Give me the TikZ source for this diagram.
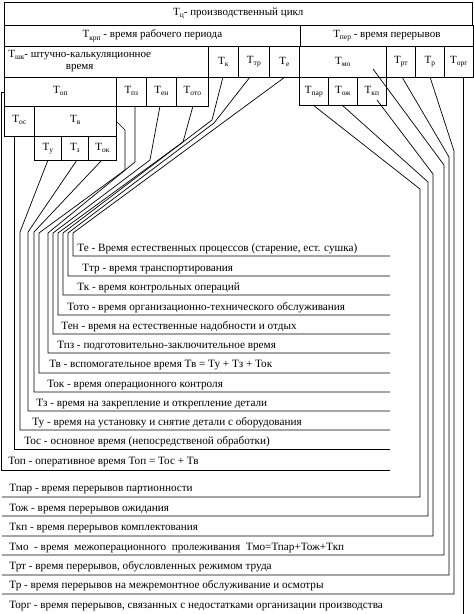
\documentclass[tikz,border=0pt]{standalone}
\usepackage{fontspec}
\setmainfont{Liberation Serif}
\newcommand\Ts[1]{Т\raisebox{-0.4ex}{\fontsize{7.5}{7.5}\selectfont #1}}
\newcommand\Up[1]{\raisebox{4pt}{#1}}
\begin{document}
\begin{tikzpicture}[x=1pt,y=-1pt,line width=0.7pt,
  box/.style={draw,inner sep=0pt,anchor=north west,align=center,font=\fontsize{11}{11.5}\selectfont},
  lbl/.style={anchor=base west,inner sep=0pt,font=\fontsize{11.2}{12}\selectfont},
  conn/.style={draw,line width=0.7pt}]
\useasboundingbox (0,0) rectangle (474,614);
% connectors (drawn first)
% left group
\coordinate (e1) at (285,77); \coordinate (e2) at (73,233); \coordinate (e3) at (73,256); \coordinate (e4) at (390,256);
\draw[conn] (e1) -- (e2) -- (e3) -- (e4);
\coordinate (tr1) at (250,77); \coordinate (tr2) at (214,123); \coordinate (tr3) at (68,233); \coordinate (tr4) at (68,276); \coordinate (tr5) at (390,276);
\draw[conn] (tr1) -- (tr2) -- (tr3) -- (tr4) -- (tr5);
\coordinate (k1) at (223,77); \coordinate (k2) at (212,120); \coordinate (k3) at (63,233); \coordinate (k4) at (63,295); \coordinate (k5) at (390,295);
\draw[conn] (k1) -- (k2) -- (k3) -- (k4) -- (k5);
\coordinate (oto1) at (193,106); \coordinate (oto2) at (183,142); \coordinate (oto3) at (58,233); \coordinate (oto4) at (58,315); \coordinate (oto5) at (390,315);
\draw[conn] (oto1) -- (oto2) -- (oto3) -- (oto4) -- (oto5);
\coordinate (en1) at (160,106); \coordinate (en2) at (150,160); \coordinate (en3) at (53,233); \coordinate (en4) at (53,334); \coordinate (en5) at (390,334);
\draw[conn] (en1) -- (en2) -- (en3) -- (en4) -- (en5);
\coordinate (pz1) at (135,106); \coordinate (pz2) at (135,162); \coordinate (pz3) at (48,233); \coordinate (pz4) at (48,353); \coordinate (pz5) at (390,353);
\draw[conn] (pz1) -- (pz2) -- (pz3) -- (pz4) -- (pz5);
\coordinate (v1) at (116,121); \coordinate (v2) at (125,130); \coordinate (v3) at (125,170); \coordinate (v4) at (39,233); \coordinate (v5) at (39,373); \coordinate (v6) at (390,373);
\draw[conn] (v1) -- (v2) -- (v3) -- (v4) -- (v5) -- (v6);
\coordinate (ok1) at (102,160); \coordinate (ok2) at (34,232); \coordinate (ok3) at (34,392); \coordinate (ok4) at (390,392);
\draw[conn] (ok1) -- (ok2) -- (ok3) -- (ok4);
\coordinate (z1) at (77,160); \coordinate (z2) at (28,232); \coordinate (z3) at (28,411); \coordinate (z4) at (390,411);
\draw[conn] (z1) -- (z2) -- (z3) -- (z4);
\coordinate (u1) at (48,160); \coordinate (u2) at (20,232); \coordinate (u3) at (20,430); \coordinate (u4) at (390,430);
\draw[conn] (u1) -- (u2) -- (u3) -- (u4);
\coordinate (os1) at (14,136); \coordinate (os2) at (14,449); \coordinate (os3) at (390,449);
\draw[conn] (os1) -- (os2) -- (os3);
\coordinate (op1) at (4,92); \coordinate (op2) at (1,92); \coordinate (op3) at (1,470); \coordinate (op4) at (390,470);
\draw[conn] (op1) -- (op2) -- (op3) -- (op4);
% right group
\coordinate (par1) at (313,105); \coordinate (par2) at (420,189); \coordinate (par3) at (420,497); \coordinate (par4) at (2,497);
\draw[conn] (par1) -- (par2) -- (par3) -- (par4);
\coordinate (oj1) at (342,105); \coordinate (oj2) at (428,182); \coordinate (oj3) at (428,516); \coordinate (oj4) at (2,516);
\draw[conn] (oj1) -- (oj2) -- (oj3) -- (oj4);
\coordinate (kp1) at (377,100); \coordinate (kp2) at (433,174); \coordinate (kp3) at (433,536); \coordinate (kp4) at (2,536);
\draw[conn] (kp1) -- (kp2) -- (kp3) -- (kp4);
\coordinate (mo1) at (373,69); \coordinate (mo2) at (444,165); \coordinate (mo3) at (444,555); \coordinate (mo4) at (2,555);
\draw[conn] (mo1) -- (mo2) -- (mo3) -- (mo4);
\coordinate (rt1) at (402,77); \coordinate (rt2) at (449,157); \coordinate (rt3) at (449,575); \coordinate (rt4) at (2,575);
\draw[conn] (rt1) -- (rt2) -- (rt3) -- (rt4);
\coordinate (r1) at (430,77); \coordinate (r2) at (454,151); \coordinate (r3) at (454,594); \coordinate (r4) at (2,594);
\draw[conn] (r1) -- (r2) -- (r3) -- (r4);
\coordinate (org1) at (463,77); \coordinate (org2) at (463,614);
\draw[conn] (org1) -- (org2);
% boxes
\node[box,minimum width=468pt,minimum height=23pt] (tc) at (4,2) {\Ts{ц}- производственный цикл};
\node[box,minimum width=296pt,minimum height=21pt] (tkrp) at (4,25) {\Ts{крп} - время рабочего периода};
\node[box,minimum width=173pt,minimum height=21pt] (tper) at (300,25) {\Ts{пер} - время перерывов};
\node[box,minimum width=204pt,minimum height=31pt] (tshk) at (4,46) {};
\node[anchor=west,inner sep=0pt,align=center,font=\fontsize{11}{11.5}\selectfont] (tshkt) at (8,61) {\Ts{шк}- штучно-калькуляционное\\время};
\node[box,minimum width=30pt,minimum height=31pt] (tk) at (208,46) {\Ts{к}};
\node[box,minimum width=31pt,minimum height=31pt] (ttr) at (238,46) {\Ts{тр}};
\node[box,minimum width=30pt,minimum height=31pt] (te) at (269,46) {\Ts{е}};
\node[box,minimum width=87pt,minimum height=31pt] (tmo) at (299,46) {\Ts{мо}};
\node[box,minimum width=29pt,minimum height=31pt] (trt) at (386,46) {\Ts{рт}};
\node[box,minimum width=29pt,minimum height=31pt] (tr) at (415,46) {\Ts{р}};
\node[box,minimum width=29pt,minimum height=31pt] (torg) at (444,46) {\Ts{орг}};
\node[box,minimum width=112pt,minimum height=29pt] (top) at (4,77) {\Up{\Ts{оп}}};
\node[box,minimum width=30pt,minimum height=29pt] (tpz) at (116,77) {\Up{\Ts{пз}}};
\node[box,minimum width=30pt,minimum height=29pt] (ten) at (146,77) {\Up{\Ts{ен}}};
\node[box,minimum width=32pt,minimum height=29pt] (toto) at (176,77) {\Up{\Ts{ото}}};
\node[box,minimum width=29pt,minimum height=28pt] (tpar) at (299,77) {\Ts{пар}};
\node[box,minimum width=29pt,minimum height=28pt] (toj) at (328,77) {\Ts{ож}};
\node[box,minimum width=29pt,minimum height=28pt] (tkp) at (357,77) {\Ts{кп}};
\node[box,minimum width=30pt,minimum height=30pt] (tos) at (4,106) {\Up{\Ts{ос}}};
\node[box,minimum width=82pt,minimum height=30pt] (tv) at (34,106) {\Up{\Ts{в}}};
\node[box,minimum width=27pt,minimum height=24pt] (tu) at (34,136) {\Ts{у}};
\node[box,minimum width=27pt,minimum height=24pt] (tz) at (61,136) {\Ts{з}};
\node[box,minimum width=28pt,minimum height=24pt] (tok) at (88,136) {\Ts{ок}};
% labels
\node[lbl] (le) at (77,251) {Те - Время естественных процессов (старение, ест. сушка)};
\node[lbl] (ltr) at (82,271) {Ттр - время транспортирования};
\node[lbl] (lk) at (77,290) {Тк - время контрольных операций};
\node[lbl] (loto) at (67,310) {Тото - время организационно-технического обслуживания};
\node[lbl] (len) at (61,329) {Тен - время на естественные надобности и отдых};
\node[lbl] (lpz) at (57,348) {Тпз - подготовительно-заключительное время};
\node[lbl] (lv) at (49,367) {Тв - вспомогательное время Тв = Ту + Тз + Ток};
\node[lbl] (lok) at (47,387) {Ток - время операционного контроля};
\node[lbl] (lz) at (36,406) {Тз - время на закрепление и открепление детали};
\node[lbl] (lu) at (32,425) {Ту - время на установку и снятие детали с оборудования};
\node[lbl] (los) at (24,444) {Тос - основное время (непосредственой обработки)};
\node[lbl] (lop) at (8,464) {Топ - оперативное время Топ = Тос + Тв};
\node[lbl] (lpar) at (9,491) {Тпар - время перерывов партионности};
\node[lbl] (loj) at (9,511) {Тож - время перерывов ожидания};
\node[lbl] (lkp) at (9,530) {Ткп - время перерывов комплектования};
\node[lbl] (lmo) at (9,550) {Тмо~ - время~ межоперационного~ пролеживания~ Тмо=Тпар+Тож+Ткп};
\node[lbl] (lrt) at (9,569) {Трт - время перерывов, обусловленных режимом труда};
\node[lbl] (lr) at (9,588) {Тр - время перерывов на межремонтное обслуживание и осмотры};
\node[lbl] (lorg) at (9,608) {Торг - время перерывов, связанных с недостатками организации производства};
\end{tikzpicture}
\end{document}
